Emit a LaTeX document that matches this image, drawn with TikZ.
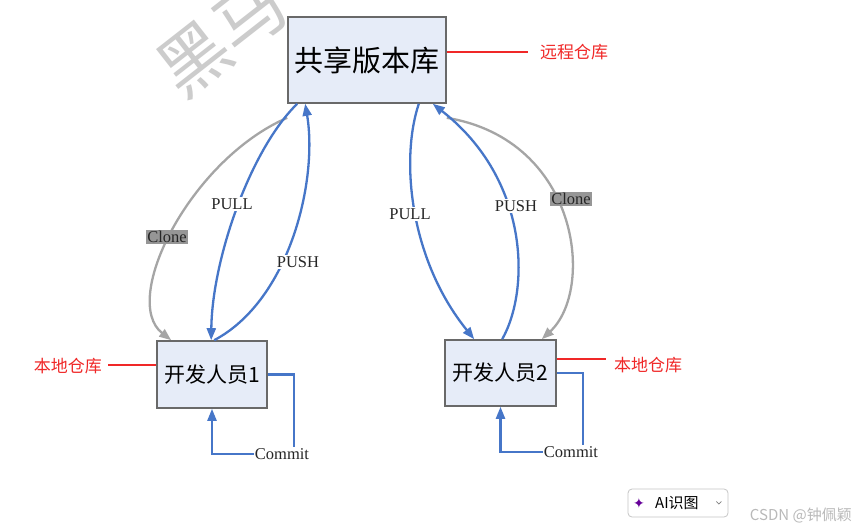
\documentclass[tikz,border=0pt]{standalone}
\usepackage{fontspec}
\setmainfont{Liberation Serif}
\newfontfamily\cjk{Noto Sans CJK SC}
\newfontfamily\dvs{DejaVu Sans}
\usetikzlibrary{arrows.meta}
\definecolor{bl}{RGB}{70,118,200}
\definecolor{boxfill}{RGB}{230,236,248}
\definecolor{boxline}{RGB}{105,105,105}
\definecolor{cl}{RGB}{165,165,165}
\definecolor{clfill}{RGB}{150,150,150}
\definecolor{rd}{RGB}{240,40,40}
\begin{document}
\begin{tikzpicture}[x=1pt,y=-1pt,
  box/.style={draw=boxline, fill=boxfill, line width=1.6pt, inner sep=0pt, font=\cjk},
  blueline/.style={draw=bl, line width=2.3pt},
  grayline/.style={draw=cl, line width=2.3pt},
  btip/.style={-{Triangle[length=12pt,width=9pt]}},
  lbl/.style={font=\fontsize{16.5}{18}\selectfont, fill=white, inner sep=1.5pt, text=black!85},
  clonelbl/.style={font=\fontsize{16.5}{18}\selectfont, fill=clfill, inner sep=1.5pt, text=black!85},
  redlbl/.style={font=\cjk\fontsize{17}{19}\selectfont, text=rd, inner sep=0pt},
  redline/.style={draw=rd, line width=1.1pt},
  commitlbl/.style={font=\fontsize{16.5}{18}\selectfont, inner sep=1pt, text=black!85}
]
\useasboundingbox[fill=white] (0,0) rectangle (857,531);

% watermark
\node[rotate=38, text=gray!40, font=\cjk\fontsize{70}{70}\selectfont, inner sep=0pt] (wm) at (222,38) {黑马};

% boxes
\node[box, minimum width=158pt, minimum height=86pt, font=\cjk\fontsize{29}{32}\selectfont] (repo) at (367,60) {共享版本库};
\node[box, minimum width=110pt, minimum height=67pt, font=\cjk\fontsize{21}{24}\selectfont] (dev1) at (212,374.5) {开发人员1};
\node[box, minimum width=111pt, minimum height=66pt, font=\cjk\fontsize{21}{24}\selectfont] (dev2) at (500.5,373) {开发人员2};

% red labels
\node[redlbl, anchor=west] (remote) at (540,52) {远程仓库};
\draw[redline] (repo.east |- remote.west) -- (528,52);
\node[redlbl, anchor=east] (local1) at (102,366) {本地仓库};
\draw[redline] (108,365) -- (dev1.west |- 0,365);
\node[redlbl, anchor=west] (local2) at (614,365) {本地仓库};
\draw[redline] (dev2.east |- 0,359) -- (606,359);

% points on the boxes
\coordinate (r1) at ([yshift=-14pt]repo.south west);
\coordinate (r2) at ([xshift=10pt]repo.south west);
\coordinate (r3) at ([xshift=18pt]repo.south west);
\coordinate (r4) at ([xshift=-28pt]repo.south east);
\coordinate (r5) at ([xshift=-14pt]repo.south east);
\coordinate (r6) at ([yshift=-14pt]repo.south east);
\coordinate (d1a) at ([xshift=15pt]dev1.north west);
\coordinate (d1b) at ([xshift=55pt]dev1.north west);
\coordinate (d1c) at ([xshift=58pt]dev1.north west);
\coordinate (d2a) at ([xshift=30pt]dev2.north west);
\coordinate (d2b) at ([xshift=58pt]dev2.north west);
\coordinate (d2c) at ([xshift=-15pt]dev2.north east);

% clone curves
\draw[grayline, btip] (r1) .. controls (190,160) and (120,300) .. (d1a);
\draw[grayline, btip] (r6) .. controls (580,140) and (595,290) .. (d2c);

% pull / push
\draw[blueline, btip] (r2) .. controls (250,150) and (212,260) .. (d1b);
\draw[blueline, btip] (d1c) .. controls (290,300) and (318,180) .. (r3);
\draw[blueline, btip] (r4) .. controls (400,160) and (410,260) .. (d2a);
\draw[blueline, btip] (d2b) .. controls (530,290) and (530,180) .. (r5);

% labels on curves
\node[clonelbl] (cl1) at (167,237) {Clone};
\node[clonelbl] (cl2) at (571,199) {Clone};
\node[lbl] (pl1) at (232,204) {PULL};
\node[lbl] (ps1) at (298,262) {PUSH};
\node[lbl] (pl2) at (410,214) {PULL};
\node[lbl] (ps2) at (516,206) {PUSH};

% commit loops
\node[commitlbl] (c1) at (282,454) {Commit};
\node[commitlbl] (c2) at (571,452) {Commit};
\draw[blueline] (dev1.east) -| ([xshift=12pt]c1.north);
\draw[blueline, btip] (c1.west) -| (dev1.south);
\draw[blueline] (dev2.east) -| ([xshift=12pt]c2.north);
\draw[blueline, btip] (c2.west) -| (dev2.south);

% UI overlay
\node[draw=gray!45, rounded corners=4pt, line width=0.8pt, minimum width=100pt, minimum height=28pt, inner sep=0pt] (btn) at (678,503) {};
\node[font=\dvs\fontsize{14}{14}\selectfont, text=violet!80!blue, anchor=west, inner sep=0pt] (spark) at (633,503) {✦};
\node[font=\cjk\fontsize{15}{15}\selectfont, anchor=west, inner sep=0pt] (ai) at (655,503) {AI识图};
\draw[gray, line width=0.8pt] ([xshift=-12pt,yshift=1.5pt]btn.east) -- ([xshift=-9.5pt,yshift=-1pt]btn.east) -- ([xshift=-7pt,yshift=1.5pt]btn.east);
\node[font=\cjk\fontsize{15}{15}\selectfont, text=gray!55, anchor=east, inner sep=0pt] (csdn) at (852,516) {CSDN @钟佩颖};
\end{tikzpicture}
\end{document}
